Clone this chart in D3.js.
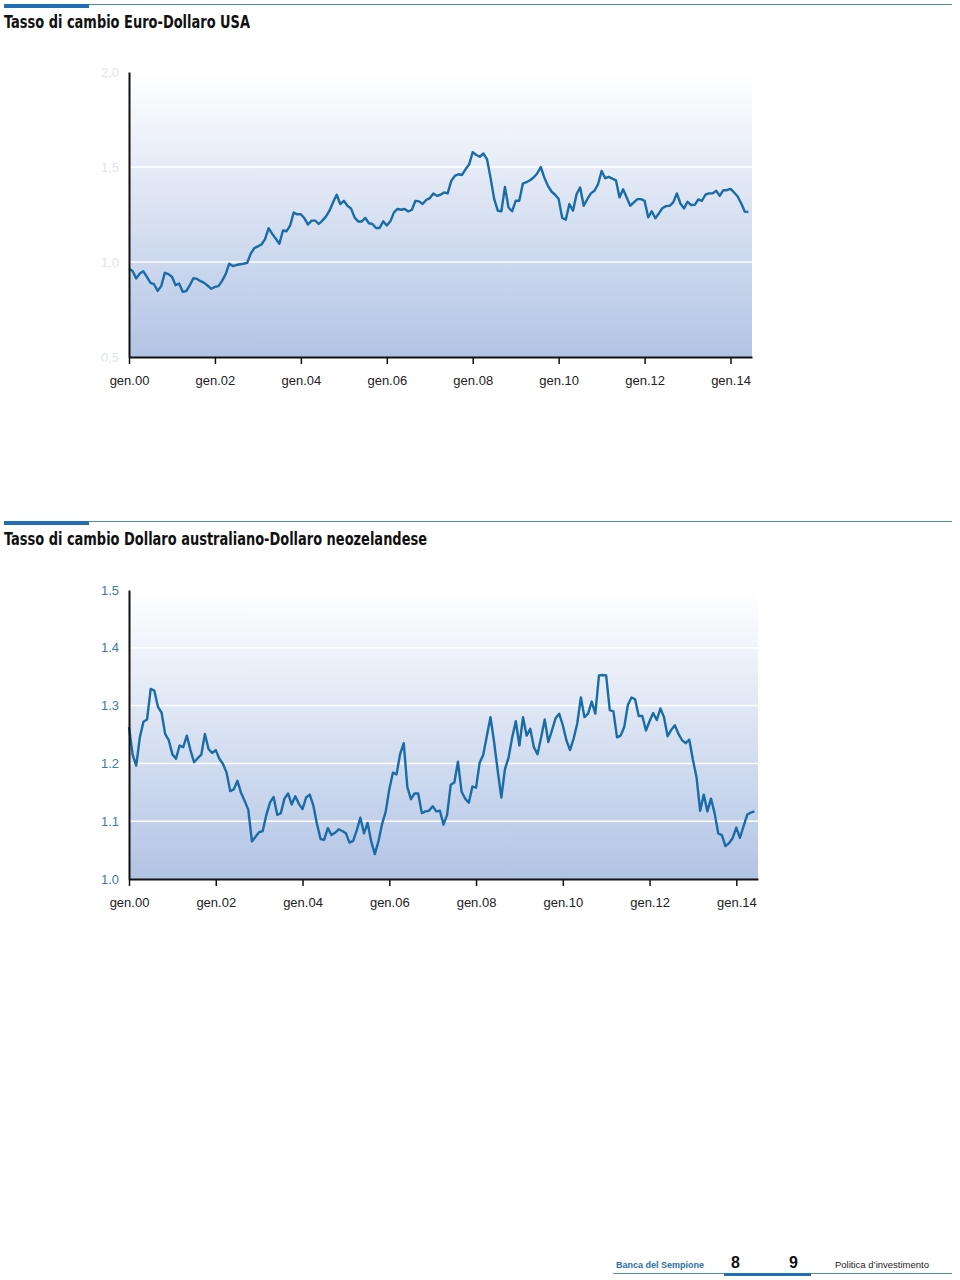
<!DOCTYPE html>
<html>
<head>
<meta charset="utf-8">
<script src="https://cdn.jsdelivr.net/npm/d3@7"></script>
<style>
  body { margin: 0; background: #fff; }
  svg text { font-family: "Liberation Sans", Arial, sans-serif; }
  .titolo { font-family: "Liberation Sans Narrow", "DejaVu Sans Condensed", sans-serif; font-weight: bold; font-size: 18px; fill: #111; }
  .xax text { font-size: 13px; fill: #222; }
  .yax text { font-size: 13px; }
</style>
</head>
<body>
<div id="grafico"></div>
<script>
// dati mensili, gen.2000 - giu.2014
var eurUsd = [
  0.965,0.953,0.913,0.939,0.951,0.922,0.890,0.883,0.848,0.873,0.943,0.936,
  0.922,0.878,0.887,0.843,0.847,0.878,0.915,0.911,0.899,0.890,0.875,0.859,
  0.869,0.873,0.901,0.936,0.991,0.979,0.984,0.988,0.991,0.995,1.044,1.073,
  1.082,1.092,1.120,1.178,1.148,1.122,1.096,1.166,1.162,1.192,1.260,1.251,
  1.251,1.230,1.197,1.218,1.218,1.200,1.218,1.239,1.270,1.314,1.354,1.305,
  1.322,1.296,1.282,1.235,1.213,1.213,1.232,1.204,1.200,1.179,1.179,1.214,
  1.192,1.214,1.261,1.279,1.275,1.279,1.266,1.275,1.322,1.319,1.305,1.326,
  1.336,1.361,1.348,1.354,1.366,1.361,1.427,1.453,1.462,1.458,1.488,1.514,
  1.578,1.563,1.554,1.571,1.540,1.440,1.331,1.270,1.267,1.395,1.287,1.267,
  1.322,1.322,1.413,1.420,1.430,1.445,1.466,1.500,1.444,1.401,1.371,1.354,
  1.331,1.232,1.223,1.305,1.270,1.357,1.392,1.296,1.331,1.361,1.375,1.409,
  1.479,1.441,1.448,1.439,1.430,1.340,1.383,1.340,1.296,1.314,1.331,1.331,
  1.322,1.235,1.267,1.230,1.256,1.284,1.294,1.296,1.314,1.361,1.308,1.282,
  1.317,1.300,1.301,1.329,1.322,1.354,1.361,1.361,1.375,1.348,1.378,1.378,
  1.385,1.366,1.345,1.308,1.265,1.263
];

var audNzd = [
  1.263,1.215,1.196,1.245,1.272,1.276,1.329,1.326,1.298,1.288,1.251,1.240,
  1.216,1.208,1.231,1.228,1.248,1.223,1.202,1.209,1.215,1.251,1.225,1.218,
  1.223,1.208,1.199,1.184,1.152,1.155,1.170,1.149,1.135,1.120,1.065,1.073,
  1.081,1.083,1.111,1.132,1.142,1.111,1.114,1.139,1.148,1.129,1.143,1.130,
  1.121,1.141,1.146,1.127,1.095,1.069,1.068,1.088,1.076,1.080,1.086,1.083,
  1.079,1.063,1.066,1.084,1.106,1.079,1.097,1.065,1.043,1.065,1.095,1.116,
  1.155,1.184,1.181,1.216,1.235,1.159,1.138,1.148,1.148,1.114,1.117,1.118,
  1.126,1.117,1.118,1.094,1.111,1.163,1.167,1.203,1.151,1.139,1.132,1.160,
  1.158,1.201,1.215,1.248,1.280,1.237,1.187,1.141,1.190,1.210,1.245,1.273,
  1.231,1.280,1.248,1.260,1.228,1.216,1.245,1.276,1.237,1.257,1.278,1.286,
  1.266,1.240,1.223,1.243,1.269,1.314,1.280,1.286,1.307,1.286,1.352,1.353,
  1.352,1.292,1.290,1.245,1.248,1.263,1.301,1.314,1.311,1.282,1.282,1.257,
  1.273,1.287,1.275,1.295,1.280,1.247,1.258,1.266,1.251,1.240,1.235,1.241,
  1.206,1.176,1.118,1.146,1.117,1.139,1.114,1.079,1.076,1.057,1.062,1.071,
  1.089,1.071,1.091,1.111,1.115,1.117
];

var anniTick = ["gen.00","gen.02","gen.04","gen.06","gen.08","gen.10","gen.12","gen.14"]
var yTick1 = [0.5, 1.0, 1.5, 2.0]
var yTick2 = [1.0, 1.1, 1.2, 1.3, 1.4, 1.5]

var W = 960, H = 1280
var svg = d3.select("#grafico").append("svg")
    .attr("width", W)
    .attr("height", H)

// sfondo sfumato
var grad = svg.append("defs").append("linearGradient")
    .attr("id", "sfondo")
    .attr("x1", 0).attr("y1", 0).attr("x2", 0).attr("y2", 1)
grad.append("stop").attr("offset", "0%").attr("stop-color", "#ffffff")
grad.append("stop").attr("offset", "100%").attr("stop-color", "#b2c4e5")

// testata con barra blu
function testata(y, testo, larghezza) {
    svg.append("line")
        .attr("x1", 4).attr("x2", 952)
        .attr("y1", y + 0.5).attr("y2", y + 0.5)
        .attr("stroke", "#4a8db8")
        .attr("stroke-width", 1)
    svg.append("rect")
        .attr("x", 4).attr("y", y)
        .attr("width", 85).attr("height", 4)
        .attr("fill", "#1f6fb2")
    svg.append("text")
        .attr("class", "titolo")
        .attr("x", 4)
        .attr("y", y + 24)
        .attr("textLength", larghezza)
        .attr("lengthAdjust", "spacingAndGlyphs")
        .text(testo)
}

function grafico(cfg) {
    var g = svg.append("g")

    var x = d3.scaleLinear()
        .domain([0, 174])
        .range([cfg.left, cfg.right])

    var y = d3.scaleLinear()
        .domain([cfg.yTicks[0], cfg.yTicks[cfg.yTicks.length - 1]])
        .range([cfg.bottom, cfg.top])

    g.append("rect")
        .attr("x", cfg.left)
        .attr("y", cfg.top)
        .attr("width", cfg.right - cfg.left)
        .attr("height", cfg.bottom - cfg.top)
        .attr("fill", "url(#sfondo)")

    // griglia bianca
    g.selectAll("griglia")
        .data(cfg.yTicks.slice(1, -1))
        .enter()
        .append("line")
            .attr("x1", cfg.left)
            .attr("x2", cfg.right)
            .attr("y1", function(d) { return y(d) })
            .attr("y2", function(d) { return y(d) })
            .attr("stroke", "#ffffff")
            .attr("stroke-width", 1.5)

    var linea = d3.line()
        .x(function(d, i) { return x(i) })
        .y(function(d) { return y(d) })

    g.append("path")
        .datum(cfg.dati)
        .attr("fill", "none")
        .attr("stroke", "#1a6ca6")
        .attr("stroke-width", 2.4)
        .attr("stroke-linejoin", "round")
        .attr("d", linea)

    // asse x
    var xax = g.append("g")
        .attr("class", "xax")
        .attr("transform", "translate(0," + cfg.bottom + ")")
        .call(d3.axisBottom(x)
            .tickValues(anniTick.map(function(d, i) { return i * 24 }))
            .tickFormat(function(d, i) { return anniTick[i] })
            .tickSize(7)
            .tickSizeOuter(0))
    xax.select(".domain").attr("stroke", "#111").attr("stroke-width", 2)
    xax.selectAll(".tick line").attr("stroke", "#111").attr("stroke-width", 1.5)
    xax.selectAll(".tick text").attr("dy", "1.38em")

    // asse y
    var yax = g.append("g")
        .attr("class", "yax")
        .attr("transform", "translate(" + cfg.left + ",0)")
        .call(d3.axisLeft(y)
            .tickValues(cfg.yTicks)
            .tickFormat(cfg.formato)
            .tickSize(0)
            .tickPadding(10))
    yax.select(".domain").attr("stroke", "#111").attr("stroke-width", 2)
    yax.selectAll(".tick text").attr("fill", cfg.coloreY)
}

testata(4, "Tasso di cambio Euro-Dollaro USA", 246)
grafico({
    dati: eurUsd,
    yTicks: yTick1,
    formato: function(d) { return d3.format(".1f")(d).replace(".", ",") },
    coloreY: "#dde5ee",
    left: 129, right: 752, top: 72, bottom: 357
})

testata(521, "Tasso di cambio Dollaro australiano-Dollaro neozelandese", 423)
grafico({
    dati: audNzd,
    yTicks: yTick2,
    formato: d3.format(".1f"),
    coloreY: "#3b7ba6",
    left: 129, right: 758, top: 590, bottom: 879
})

// pie di pagina
svg.append("line")
    .attr("x1", 613).attr("x2", 952)
    .attr("y1", 1273.5).attr("y2", 1273.5)
    .attr("stroke", "#4a8db8")
    .attr("stroke-width", 1)
svg.append("rect")
    .attr("x", 724).attr("y", 1273)
    .attr("width", 87).attr("height", 3)
    .attr("fill", "#1f6fb2")
svg.append("text")
    .attr("x", 616).attr("y", 1268)
    .attr("font-size", 9).attr("font-weight", "bold")
    .attr("fill", "#2a6ea6")
    .text("Banca del Sempione")
svg.selectAll("pagine")
    .data([["8", 731], ["9", 789]])
    .enter()
    .append("text")
        .attr("x", function(d) { return d[1] })
        .attr("y", 1268)
        .attr("font-size", 16).attr("font-weight", "bold")
        .attr("fill", "#111")
        .text(function(d) { return d[0] })
svg.append("text")
    .attr("x", 835).attr("y", 1268)
    .attr("font-size", 9.5)
    .attr("fill", "#222")
    .text("Politica d’investimento")
</script>
</body>
</html>
